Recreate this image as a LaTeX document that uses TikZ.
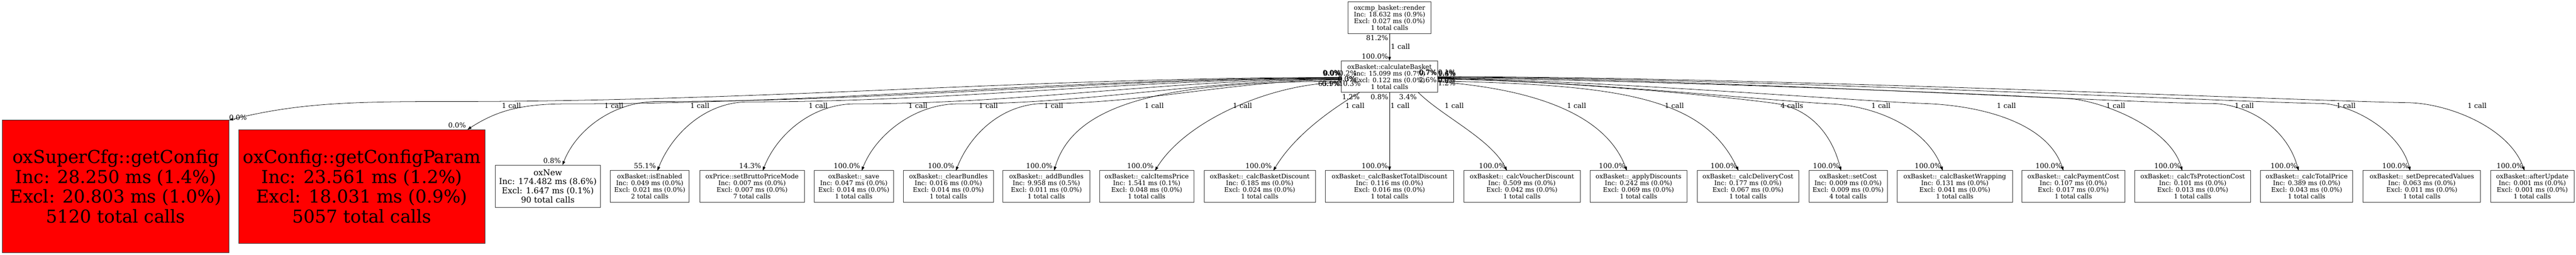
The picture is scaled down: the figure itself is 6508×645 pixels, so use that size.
\documentclass[tikz,border=0pt]{standalone}
\usepackage{fontspec}
\setmainfont{DejaVu Serif}
\usetikzlibrary{arrows.meta,calc}
\begin{document}
\begin{tikzpicture}[x=1pt,y=-1pt,
  box/.style={draw=black!80, line width=1.2pt, fill=white, inner sep=0pt, outer sep=0pt, align=center, font=\fontsize{16}{17}\selectfont},
  smallbox/.style={box, minimum height=80pt},
  hotbox/.style={box, fill=red, font=\fontsize{45}{50}\selectfont},
  midbox/.style={box, font=\fontsize{20.7}{23.3}\selectfont},
  call/.style={draw=black, line width=1pt, -{Triangle[length=10pt,width=7pt]}},
  lab/.style={inner sep=0pt, outer sep=0pt, font=\fontsize{17.5}{18}\selectfont}]
\useasboundingbox (0,0) rectangle (6508,645);

% ---------- nodes ----------
\node[smallbox, minimum width=209pt] (top) at (3510.5,45) {oxcmp\_basket::render\\Inc: 18.632 ms (0.9\%)\\Excl: 0.027 ms (0.0\%)\\1 total calls};
\node[smallbox, minimum width=243pt] (hub) at (3510.5,194) {oxBasket::calculateBasket\\Inc: 15.099 ms (0.7\%)\\Excl: 0.122 ms (0.0\%)\\1 total calls};

\node[hotbox, minimum width=573pt, minimum height=336pt] (n1) at (292.5,472) {oxSuperCfg::getConfig\\Inc: 28.250 ms (1.4\%)\\Excl: 20.803 ms (1.0\%)\\5120 total calls};
\node[hotbox, minimum width=623pt, minimum height=288pt] (n2) at (914.5,472) {oxConfig::getConfigParam\\Inc: 23.561 ms (1.2\%)\\Excl: 18.031 ms (0.9\%)\\5057 total calls};
\node[midbox, minimum width=266pt, minimum height=107pt] (n3) at (1384,471.5) {oxNew\\Inc: 174.482 ms (8.6\%)\\Excl: 1.647 ms (0.1\%)\\90 total calls};
\node[smallbox, minimum width=199pt] (n4) at (1641.5,472) {oxBasket::isEnabled\\Inc: 0.049 ms (0.0\%)\\Excl: 0.021 ms (0.0\%)\\2 total calls};
\node[smallbox, minimum width=264pt] (n5) at (1900,472) {oxPrice::setBruttoPriceMode\\Inc: 0.007 ms (0.0\%)\\Excl: 0.007 ms (0.0\%)\\7 total calls};
\node[smallbox, minimum width=200pt] (n6) at (2157,472) {oxBasket::\_save\\Inc: 0.047 ms (0.0\%)\\Excl: 0.014 ms (0.0\%)\\1 total calls};
\node[smallbox, minimum width=228pt] (n7) at (2396,472) {oxBasket::\_clearBundles\\Inc: 0.016 ms (0.0\%)\\Excl: 0.014 ms (0.0\%)\\1 total calls};
\node[smallbox, minimum width=219pt] (n8) at (2643.5,472) {oxBasket::\_addBundles\\Inc: 9.958 ms (0.5\%)\\Excl: 0.011 ms (0.0\%)\\1 total calls};
\node[smallbox, minimum width=238pt] (n9) at (2897,472) {oxBasket::\_calcItemsPrice\\Inc: 1.541 ms (0.1\%)\\Excl: 0.048 ms (0.0\%)\\1 total calls};
\node[smallbox, minimum width=281pt] (n10) at (3182.5,472) {oxBasket::\_calcBasketDiscount\\Inc: 0.185 ms (0.0\%)\\Excl: 0.024 ms (0.0\%)\\1 total calls};
\node[smallbox, minimum width=325pt] (n11) at (3510.5,472) {oxBasket::\_calcBasketTotalDiscount\\Inc: 0.116 ms (0.0\%)\\Excl: 0.016 ms (0.0\%)\\1 total calls};
\node[smallbox, minimum width=294pt] (n12) at (3845,472) {oxBasket::\_calcVoucherDiscount\\Inc: 0.509 ms (0.0\%)\\Excl: 0.042 ms (0.0\%)\\1 total calls};
\node[smallbox, minimum width=245pt] (n13) at (4139.5,472) {oxBasket::\_applyDiscounts\\Inc: 0.242 ms (0.0\%)\\Excl: 0.069 ms (0.0\%)\\1 total calls};
\node[smallbox, minimum width=256pt] (n14) at (4416,472) {oxBasket::\_calcDeliveryCost\\Inc: 0.177 ms (0.0\%)\\Excl: 0.067 ms (0.0\%)\\1 total calls};
\node[smallbox, minimum width=198pt] (n15) at (4669,472) {oxBasket::setCost\\Inc: 0.009 ms (0.0\%)\\Excl: 0.009 ms (0.0\%)\\4 total calls};
\node[smallbox, minimum width=291pt] (n16) at (4938.5,472) {oxBasket::\_calcBasketWrapping\\Inc: 0.131 ms (0.0\%)\\Excl: 0.041 ms (0.0\%)\\1 total calls};
\node[smallbox, minimum width=260pt] (n17) at (5238,472) {oxBasket::\_calcPaymentCost\\Inc: 0.107 ms (0.0\%)\\Excl: 0.017 ms (0.0\%)\\1 total calls};
\node[smallbox, minimum width=293pt] (n18) at (5539.5,472) {oxBasket::\_calcTsProtectionCost\\Inc: 0.101 ms (0.0\%)\\Excl: 0.013 ms (0.0\%)\\1 total calls};
\node[smallbox, minimum width=233pt] (n19) at (5827.5,472) {oxBasket::\_calcTotalPrice\\Inc: 0.389 ms (0.0\%)\\Excl: 0.043 ms (0.0\%)\\1 total calls};
\node[smallbox, minimum width=297pt] (n20) at (6118.5,472) {oxBasket::\_setDeprecatedValues\\Inc: 0.063 ms (0.0\%)\\Excl: 0.011 ms (0.0\%)\\1 total calls};
\node[smallbox, minimum width=211pt] (n21) at (6397.5,472) {oxBasket::afterUpdate\\Inc: 0.001 ms (0.0\%)\\Excl: 0.001 ms (0.0\%)\\1 total calls};

% ---------- waypoints ----------
\coordinate (w1) at (1150,257);
\coordinate (w2) at (1430,263);
\coordinate (w3) at (1660,257);
\coordinate (w4) at (1890,258);
\coordinate (w5) at (2160,263);
\coordinate (w6) at (2420,263);
\coordinate (w7) at (2640,262);
\coordinate (w15) at (4486,262);
\coordinate (w16) at (4626,263);
\coordinate (w17) at (4860,262);
\coordinate (w18) at (5230,250);
\coordinate (w19) at (5586,262);
\coordinate (w20) at (5862,262);
\coordinate (w21) at (6085,260);

% ---------- edges ----------
\draw[call] (top) -- (hub);
\draw[call] ($(hub.west)+(0,2)$) .. controls +(-780,0) and +(780,0) .. (w1) .. controls +(-250,0) and +(180,-45) .. (n1.north east);
\draw[call] ($(hub.west)+(0,3)$) .. controls +(-690,0) and +(690,0) .. (w2) .. controls +(-120,0) and +(70,-45) .. ($(n2.north east)+(-45,0)$);
\draw[call] ($(hub.west)+(0,4)$) .. controls +(-600,0) and +(600,0) .. (w3) .. controls +(-110,0) and +(35,-90) .. ($(n3.north)+(37,0)$);
\draw[call] ($(hub.west)+(0,5)$) .. controls +(-520,0) and +(520,0) .. (w4) .. controls +(-110,0) and +(35,-90) .. ($(n4.north)+(19.5,0)$);
\draw[call] ($(hub.west)+(0,6)$) .. controls +(-430,0) and +(430,0) .. (w5) .. controls +(-110,0) and +(35,-90) .. ($(n5.north)+(27,0)$);
\draw[call] ($(hub.west)+(0,7)$) .. controls +(-340,0) and +(340,0) .. (w6) .. controls +(-110,0) and +(35,-90) .. ($(n6.north)+(20,0)$);
\draw[call] ($(hub.west)+(0,8)$) .. controls +(-260,0) and +(260,0) .. (w7) .. controls +(-110,0) and +(35,-90) .. ($(n7.north)+(19,0)$);
\draw[call] ($(hub.west)+(0,12)$) .. controls +(-450,0) and +(50,-170) .. ($(n8.north)+(19.5,0)$);
\draw[call] ($(hub.west)+(0,15)$) .. controls +(-170,0) and +(80,-130) .. ($(n9.north)+(21,0)$);
\draw[call] ($(hub.south west)+(46,0)$) .. controls +(-50,30) and +(60,-100) .. ($(n10.north)+(34.5,0)$);
\draw[call] (hub.south) -- (n11.north);
\draw[call] ($(hub.south east)+(-49,0)$) .. controls +(60,60) and +(-40,-80) .. ($(n12.north)+(-38,0)$);
\draw[call] ($(hub.east)+(0,13)$) .. controls +(200,15) and +(-60,-160) .. ($(n13.north)+(-29.5,0)$);
\draw[call] ($(hub.east)+(0,11)$) .. controls +(450,10) and +(-90,-190) .. ($(n14.north)+(-24,0)$);
\draw[call] ($(hub.east)+(0,6)$) .. controls +(350,5) and +(-80,-12) .. (w15) .. controls +(80,12) and +(-25,-100) .. ($(n15.north)+(-18,0)$);
\draw[call] ($(hub.east)+(0,5)$) .. controls +(350,5) and +(-120,-5) .. (w16) .. controls +(110,5) and +(-40,-110) .. ($(n16.north)+(-30.5,0)$);
\draw[call] ($(hub.east)+(0,4)$) .. controls +(400,5) and +(-150,-5) .. (w17) .. controls +(150,5) and +(-40,-120) .. ($(n17.north)+(-25,0)$);
\draw[call] ($(hub.east)+(0,3)$) .. controls +(500,5) and +(-150,-10) .. (w18) .. controls +(80,6) and +(-30,-110) .. ($(n18.north)+(-26.5,0)$);
\draw[call] ($(hub.east)+(0,2)$) .. controls +(600,0) and +(-200,0) .. (w19) .. controls +(90,0) and +(-30,-110) .. ($(n19.north)+(-20.5,0)$);
\draw[call] ($(hub.east)+(0,1)$) .. controls +(700,0) and +(-200,-3) .. (w20) .. controls +(80,1) and +(-25,-100) .. ($(n20.north)+(-29.5,0)$);
\draw[call] (hub.east) .. controls +(800,0) and +(-250,-4) .. (w21) .. controls +(100,2) and +(-40,-110) .. ($(n21.north)+(-19.5,0)$);

% ---------- call-count labels ----------
\node[lab] (c1) at (1292,268) {1 call};
\node[lab] (c2) at (1551,268) {1 call};
\node[lab] (c3) at (1768,268) {1 call};
\node[lab] (c4) at (2067,268) {1 call};
\node[lab] (c5) at (2319,268) {1 call};
\node[lab] (c6) at (2497,268) {1 call};
\node[lab] (c7) at (2662,268) {1 call};
\node[lab] (c8) at (2916,268) {1 call};
\node[lab] (c9) at (3139,268) {1 call};
\node[lab] (c10) at (3423,268) {1 call};
\node[lab] (c11) at (3537,268) {1 call};
\node[lab] (c12) at (3674,268) {1 call};
\node[lab] (c13) at (3983,268) {1 call};
\node[lab] (c14) at (4230,268) {1 call};
\node[lab] (c15) at (4527,268) {4 calls};
\node[lab] (c16) at (4752,268) {1 call};
\node[lab] (c17) at (5069,268) {1 call};
\node[lab] (c18) at (5345,268) {1 call};
\node[lab] (c19) at (5670,268) {1 call};
\node[lab] (c20) at (5927,268) {1 call};
\node[lab] (c21) at (6258,268) {1 call};

% ---------- head labels ----------
\node[lab, anchor=west] (h1) at ($(n1.north east)+(0,-7)$) {0.0\%};
\node[lab, anchor=east] (h2) at ($(n2.north east)+(-49,-11)$) {0.0\%};
\node[lab, anchor=east] (h3) at ($(n3.north)+(33,-11)$) {0.8\%};
\node[lab, anchor=east] (h4) at ($(n4.north)+(15.5,-12)$) {55.1\%};
\node[lab, anchor=east] (h5) at ($(n5.north)+(23,-12)$) {14.3\%};
\node[lab, anchor=east] (h6) at ($(n6.north)+(16,-12)$) {100.0\%};
\node[lab, anchor=east] (h7) at ($(n7.north)+(15,-12)$) {100.0\%};
\node[lab, anchor=east] (h8) at ($(n8.north)+(15.5,-12)$) {100.0\%};
\node[lab, anchor=east] (h9) at ($(n9.north)+(17,-12)$) {100.0\%};
\node[lab, anchor=east] (h10) at ($(n10.north)+(30.5,-12)$) {100.0\%};
\node[lab, anchor=east] (h11) at ($(n11.north)+(-4,-12)$) {100.0\%};
\node[lab, anchor=east] (h12) at ($(n12.north)+(-42,-12)$) {100.0\%};
\node[lab, anchor=east] (h13) at ($(n13.north)+(-33.5,-12)$) {100.0\%};
\node[lab, anchor=east] (h14) at ($(n14.north)+(-28,-12)$) {100.0\%};
\node[lab, anchor=east] (h15) at ($(n15.north)+(-22,-12)$) {100.0\%};
\node[lab, anchor=east] (h16) at ($(n16.north)+(-34.5,-12)$) {100.0\%};
\node[lab, anchor=east] (h17) at ($(n17.north)+(-29,-12)$) {100.0\%};
\node[lab, anchor=east] (h18) at ($(n18.north)+(-30.5,-12)$) {100.0\%};
\node[lab, anchor=east] (h19) at ($(n19.north)+(-24.5,-12)$) {100.0\%};
\node[lab, anchor=east] (h20) at ($(n20.north)+(-33.5,-12)$) {100.0\%};
\node[lab, anchor=east] (h21) at ($(n21.north)+(-23.5,-12)$) {100.0\%};

% ---------- tail labels (overlapping at the caller) ----------
\node[lab] (t1) at (3366,186) {0.0\%};
\node[lab] (t2) at (3364,184) {0.0\%};
\node[lab] (t3) at (3365,185) {9.0\%};
\node[lab] (t4) at (3405,185) {0.2\%};
\node[lab] (t5) at (3402,200) {0.0\%};
\node[lab] (t6) at (3403,200) {0.3\%};
\node[lab] (t7) at (3362,212) {0.1\%};
\node[lab] (t8) at (3358,211) {65.9\%};
\node[lab] (t9) at (3410,211) {10.3\%};
\node[lab] (t10) at (3413,245) {1.2\%};
\node[lab] (t11) at (3485,245) {0.8\%};
\node[lab] (t12) at (3557,245) {3.4\%};
\node[lab] (t13) at (3655,187) {1.6\%};
\node[lab] (t14) at (3655,210) {1.2\%};
\node[lab] (t15) at (3655,183) {0.1\%};
\node[lab] (t16) at (3655,203) {0.9\%};
\node[lab] (t17) at (3607,183) {0.7\%};
\node[lab] (t18) at (3608,184) {0.7\%};
\node[lab] (t19) at (3607,203) {2.6\%};
\node[lab] (t20) at (3656,185) {0.4\%};
\node[lab] (t21) at (3655,202) {0.0\%};

% ---------- labels of the top edge ----------
\node[lab, anchor=east] (p1) at (3507,96) {81.2\%};
\node[lab] (p2) at (3538,118) {1 call};
\node[lab, anchor=east] (p3) at (3507,143) {100.0\%};
\end{tikzpicture}
\end{document}
